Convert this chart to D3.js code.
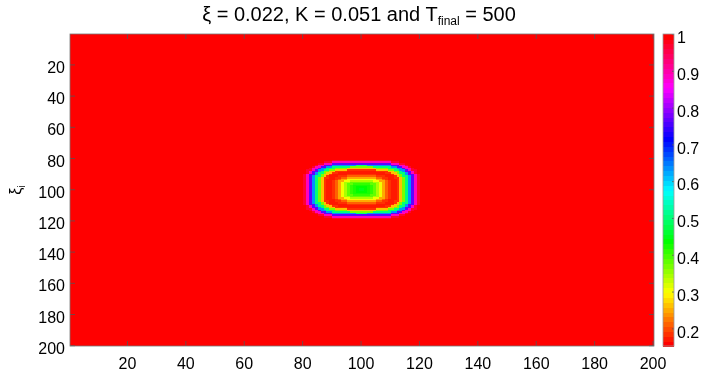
<!DOCTYPE html>
<html>
<head>
<meta charset="utf-8">
<script src="https://cdn.jsdelivr.net/npm/d3@7"></script>
<style>
body { margin: 0; background: #fff; }
#chart { position: relative; width: 706px; height: 376px; }
#chart canvas, #chart svg { position: absolute; left: 0; top: 0; }
text { font-family: "Liberation Sans", Arial, sans-serif; fill: #000; }
</style>
</head>
<body>
<div id="chart"></div>
<script>
// grid and axes
const gridSize = 200;
const xTicks = [20, 40, 60, 80, 100, 120, 140, 160, 180, 200];
const yTicks = [20, 40, 60, 80, 100, 120, 140, 160, 180, 200];
const cbTicks = [0.2, 0.3, 0.4, 0.5, 0.6, 0.7, 0.8, 0.9, 1];
const colorLimits = [0.152, 1];

// the spot: value at each ring (in cells) from the centre
const spotCentre = [100.5, 100.5];
const ringDist  = [0, 1, 2, 3, 4, 5, 6, 7, 8, 9, 10, 11, 12, 13, 14, 15, 16, 17, 18, 19, 20];
const ringValue = [0.45, 0.45, 0.44, 0.43, 0.41, 0.38, 0.34, 0.30, 0.25, 0.21,
                   0.18, 0.17, 0.17, 0.19, 0.26, 0.37, 0.50, 0.64, 0.77, 0.89, 0.97];
const backgroundValue = 1;

const W = 706, H = 376;
const plotLeft = 70, plotTop = 34, plotRight = 654, plotBottom = 346;
const cbLeft = 663, cbRight = 674;

const x = d3.scaleLinear().domain([0.5, gridSize + 0.5]).range([plotLeft, plotRight]);
const y = d3.scaleLinear().domain([0.5, gridSize + 0.5]).range([plotTop, plotBottom]);
const cb = d3.scaleLinear().domain(colorLimits).range([plotBottom, plotTop]);

// hsv colormap, 64 steps, red at both ends
function colour(v) {
    let t = (v - colorLimits[0]) / (colorLimits[1] - colorLimits[0]);
    let idx = Math.max(0, Math.min(63, Math.floor(t * 64)));
    return d3.hsl(idx / 63 * 360, 1, 0.5).formatHex();
}

function cellValue(i, j) {
    // rounded-square distance, a bit flatter vertically
    let dx = Math.abs(i - spotCentre[0]);
    let dy = Math.abs(j - spotCentre[1]) / 0.94;
    let p = 3.1;
    let d = Math.pow(Math.pow(dx, p) + Math.pow(dy, p), 1 / p);
    let k = Math.round(d);
    let n = ringDist.indexOf(k);
    return n < 0 ? backgroundValue : ringValue[n];
}

let chart = d3.select('#chart');
let canvas = chart.append('canvas').attr('width', W).attr('height', H);
let ctx = canvas.node().getContext('2d');
let cw = x(1.5) - x(0.5), ch = y(1.5) - y(0.5);
for (let j = 1; j <= gridSize; j++) {
    for (let i = 1; i <= gridSize; i++) {
        ctx.fillStyle = colour(cellValue(i, j));
        ctx.fillRect(Math.floor(x(i - 0.5)), Math.floor(y(j - 0.5)), Math.ceil(cw) + 1, Math.ceil(ch) + 1);
    }
}
// white out overdraw beyond the plot box
ctx.fillStyle = '#fff';
ctx.fillRect(plotRight, plotTop, cbLeft - plotRight, plotBottom - plotTop + 4);
ctx.fillRect(plotLeft, plotBottom, plotRight - plotLeft + 4, 4);
// colorbar strip
for (let k = 0; k < 64; k++) {
    let v0 = colorLimits[0] + k / 64 * (colorLimits[1] - colorLimits[0]);
    let v1 = colorLimits[0] + (k + 1) / 64 * (colorLimits[1] - colorLimits[0]);
    ctx.fillStyle = colour((v0 + v1) / 2);
    ctx.fillRect(cbLeft, Math.floor(cb(v1)), cbRight - cbLeft, Math.ceil(cb(v0) - cb(v1)) + 1);
}

let svg = chart.append('svg').attr('width', W).attr('height', H);

let fontSize = 16;
let xAxis = svg.append('g').attr('transform', 'translate(0,' + plotBottom + ')')
    .call(d3.axisBottom(x).tickValues(xTicks).tickSizeInner(-5).tickSizeOuter(0).tickPadding(12));
let xAxisTop = svg.append('g').attr('transform', 'translate(0,' + plotTop + ')')
    .call(d3.axisTop(x).tickValues(xTicks).tickSizeInner(-5).tickSizeOuter(0).tickFormat(''));
let yAxis = svg.append('g').attr('transform', 'translate(' + plotLeft + ',0)')
    .call(d3.axisLeft(y).tickValues(yTicks).tickSizeInner(-5).tickSizeOuter(0).tickPadding(5));
let yAxisRight = svg.append('g').attr('transform', 'translate(' + plotRight + ',0)')
    .call(d3.axisRight(y).tickValues(yTicks).tickSizeInner(-5).tickSizeOuter(0).tickFormat(''));
let cbAxis = svg.append('g').attr('transform', 'translate(' + cbRight + ',0)')
    .call(d3.axisRight(cb).tickValues(cbTicks).tickSizeInner(-2).tickSizeOuter(0).tickPadding(3)
        .tickFormat(d => d === 1 ? '1' : d3.format('.1f')(d)));

[xAxis, xAxisTop, yAxis, yAxisRight, cbAxis].forEach(g => {
    g.select('.domain').remove();
    g.selectAll('line').attr('stroke', '#555').attr('stroke-width', 0.8);
    g.selectAll('text').attr('font-size', fontSize).attr('font-family', '"Liberation Sans", Arial, sans-serif');
});
yAxis.selectAll('text').attr('dy', '0.5em');
cbAxis.selectAll('text').attr('dy', '0.55em');

// boxes
svg.append('rect').attr('x', plotLeft).attr('y', plotTop).attr('width', plotRight - plotLeft).attr('height', plotBottom - plotTop)
    .attr('fill', 'none').attr('stroke', '#777').attr('stroke-width', 0.8);
svg.append('rect').attr('x', cbLeft).attr('y', plotTop).attr('width', cbRight - cbLeft).attr('height', plotBottom - plotTop)
    .attr('fill', 'none').attr('stroke', '#999').attr('stroke-width', 0.8);

// title
let title = svg.append('text').attr('x', (plotLeft + plotRight) / 2 - 3).attr('y', 21)
    .attr('text-anchor', 'middle').attr('font-size', 20);
title.append('tspan').text('\u03be = 0.022, K = 0.051 and T');
title.append('tspan').attr('font-size', 12).attr('dy', 4).text('final');
title.append('tspan').attr('dy', -4).text(' = 500');

// y label
let ylab = svg.append('text').attr('transform', 'translate(21,' + ((plotTop + plotBottom) / 2) + ') rotate(-90)')
    .attr('text-anchor', 'middle').attr('font-size', fontSize);
ylab.append('tspan').text('\u03be');
ylab.append('tspan').attr('font-size', 10).attr('dy', 4).text('i');
</script>
</body>
</html>
